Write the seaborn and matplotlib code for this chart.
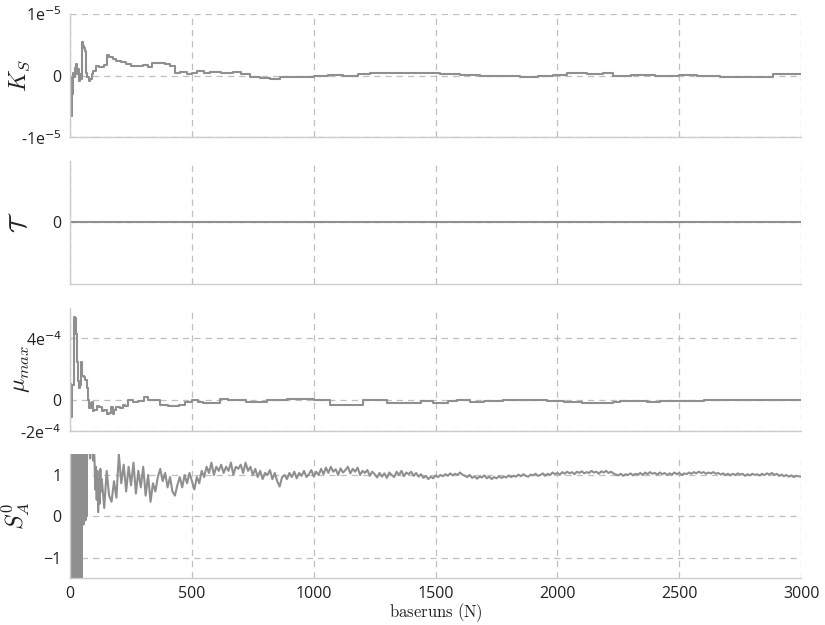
import numpy as np
import pandas as pd
import matplotlib
matplotlib.use("Agg")
import matplotlib.pyplot as plt
import seaborn as sns
from matplotlib.ticker import FixedLocator, FixedFormatter

# ---------------- data ----------------
# K_S running estimate, values in units of 1e-6
ks_x = [0, 5, 8, 12, 16, 20, 25, 28, 32, 36, 40, 45, 48, 52, 56, 60, 64, 70, 76, 82,
        88, 95, 105, 120, 140, 152, 160, 175, 190, 210, 230, 250, 280, 300, 320, 337,
        360, 390, 410, 431, 450, 480, 500, 520, 550, 575, 620, 670, 700, 740, 780, 820,
        860, 900, 950, 1000, 1060, 1120, 1180, 1232, 1300, 1383, 1420, 1465, 1520, 1600,
        1683, 1760, 1847, 1920, 1980, 2040, 2120, 2188, 2230, 2300, 2400, 2500, 2572,
        2620, 2667, 2750, 2845, 2886, 2950, 3000]
ks_v = [-0.3, -6.5, -3.0, 0.5, -0.2, 1.2, 1.9, 0.3, 1.0, -0.8, 0.2, -0.5, 5.5, 4.8, 4.4,
        4.0, 0.5, -0.3, -0.8, -0.6, 0.2, 0.8, 1.6, 1.4, 1.7, 3.3, 3.0, 2.7, 2.4, 2.2, 1.8,
        1.6, 1.5, 1.7, 1.4, 2.1, 2.0, 1.9, 1.6, 0.4, 0.6, 0.3, 0.5, 0.7, 0.5, 0.6, 0.5,
        0.55, 0.2, -0.3, -0.4, -0.6, -0.3, -0.3, -0.2, 0.0, 0.1, 0.0, 0.2, 0.4, 0.35, 0.5,
        0.4, 0.45, 0.2, 0.1, 0.0, -0.1, -0.2, 0.0, 0.1, 0.4, 0.3, 0.35, 0.0, 0.05, 0.0,
        0.05, 0.0, -0.1, -0.3, -0.25, -0.15, 0.2, 0.25, 0.2]

# tau: identically zero
tau_x = [0, 3000]
tau_v = [0.0, 0.0]

# mu_max running estimate, values in units of 1e-4
mu_x = [0, 5, 9, 14, 22, 25, 28, 31, 36, 42, 45, 50, 58, 62, 68, 72, 78, 84, 90, 95,
        100, 110, 120, 130, 140, 152, 160, 168, 175, 182, 190, 205, 215, 225, 238, 260,
        280, 303, 320, 350, 370, 400, 445, 470, 500, 525, 545, 587, 615, 650, 697, 720,
        780, 808, 860, 890, 944, 1000, 1067, 1136, 1203, 1272, 1300, 1380, 1440, 1490,
        1550, 1588, 1640, 1700, 1777, 1888, 1957, 2025, 2100, 2230, 2257, 2367, 2420,
        2600, 2800, 3000]
mu_v = [1.05, -1.05, 1.0, 5.4, 5.3, 4.3, 2.5, 1.25, 0.8, 1.0, 2.45, 1.6, 1.5, 1.3, 0.8,
        0.0, -0.5, -0.2, -0.1, -0.7, -0.6, -0.4, -0.45, -0.7, -0.65, -0.9, -0.85, -0.45,
        -0.9, -0.6, -0.45, -0.5, -0.3, -0.4, 0.0, -0.1, -0.05, 0.2, 0.05, 0.0, -0.3,
        -0.35, -0.3, -0.1, 0.05, -0.1, -0.2, -0.2, 0.1, 0.0, 0.05, -0.1, -0.1, 0.05, 0.05,
        0.1, 0.1, 0.0, -0.3, -0.3, 0.0, 0.0, -0.15, -0.15, -0.05, -0.15, -0.05, 0.0, -0.1,
        -0.05, 0.02, 0.02, -0.05, -0.12, -0.15, -0.12, -0.02, -0.12, -0.02, 0.0, 0.02, 0.0]

# S_A^0 estimate: early chaotic part, then regular samples every 10 runs
sa_x_early = [1, 3, 5, 7, 9, 11, 13, 15, 17, 19, 21, 23, 25, 27, 29, 31, 33, 35, 37, 39,
              41, 43, 45, 47, 49, 51, 53, 55, 57, 59, 61, 63, 65, 67, 70, 73, 76, 79, 82,
              85, 88, 91, 94, 97, 100, 103, 106, 109, 112, 115, 118, 121, 124, 127]
sa_v_early = [3.0, -2.5, 4.0, -3.0, 2.5, -4.0, 3.5, -2.0, 5.0, -3.5, 2.0, -2.8, 3.2, -1.8,
              4.0, -3.0, 2.6, -2.2, 3.0, -2.6, 2.2, 1.9, 2.8, -2.4, 2.0, -0.1, 2.5, -0.2,
              1.9, 0.1, 2.2, -0.1, 1.8, 0.0, 1.7, 2.1, 1.6, 1.9, 1.4, 2.0, 1.6, 1.8, 1.35,
              1.7, 1.4, 0.65, 1.2, 0.4, 1.1, 0.1, 0.9, 0.3, 1.15, 0.6]
sa_x_late = list(range(130, 3001, 10))
sa_v_late = [
    0.9, 0.2, 1.1, 0.5, 0.35, 0.85, 0.45, 1.5, 0.8, 1.25,
    0.6, 1.2, 0.75, 1.3, 0.55, 1.1, 0.7, 1.2, 0.5, 1.0,
    0.35, 0.8, 0.6, 0.95, 1.15, 0.85, 1.05, 0.7, 0.95, 0.6,
    0.5, 0.75, 0.95, 0.7, 1.0, 0.8, 1.05, 0.85, 0.65, 0.95,
    0.8, 1.1, 0.95, 1.2, 1.05, 1.3, 1.0, 1.2, 1.1, 1.25,
    1.05, 1.2, 1.1, 1.3, 1.0, 1.2, 1.15, 1.25, 1.05, 1.3,
    1.1, 1.2, 1.0, 1.15, 0.95, 1.1, 0.9, 1.05, 1.0, 1.12,
    0.9, 1.05, 0.85, 0.72, 0.95, 1.0, 0.9, 1.05, 0.95, 1.08,
    0.92, 1.05, 0.98, 1.1, 0.95, 1.02, 1.12, 0.96, 1.08, 1.0,
    1.15, 1.02, 1.18, 1.05, 1.2, 1.08, 1.14, 1.0, 1.16, 1.06,
    1.12, 1.2, 1.04, 1.15, 1.08, 1.18, 1.0, 1.1, 1.05, 1.12,
    0.98, 1.08, 1.02, 0.94, 1.05, 0.96, 1.04, 0.93, 1.06, 1.0,
    0.95, 1.08, 1.0, 1.1, 0.97, 1.06, 1.02, 1.08, 0.98, 1.05,
    0.96, 1.02, 0.93, 0.98, 0.9, 0.96, 0.92, 0.99, 0.95, 1.0,
    0.97, 1.02, 0.98, 1.04, 0.99, 1.03, 1.0, 1.06, 1.01, 0.98,
    0.95, 1.0, 0.93, 0.97, 0.91, 0.96, 0.94, 0.99, 0.92, 0.96,
    0.9, 0.95, 0.92, 0.97, 0.93, 0.96, 0.94, 0.99, 0.95, 0.98,
    0.96, 1.01, 0.97, 1.02, 0.98, 0.96, 1.01, 0.99, 1.03, 0.98,
    1.0, 1.04, 0.98, 1.03, 1.0, 1.06, 1.02, 1.05, 1.01, 1.07,
    1.03, 1.08, 1.04, 1.07, 1.02, 1.08, 1.05, 1.09, 1.04, 1.07,
    1.05, 1.1, 1.06, 1.08, 1.03, 1.09, 1.06, 1.1, 1.05, 1.08,
    1.04, 1.01, 0.99, 1.03, 0.98, 1.02, 1.0, 1.04, 0.99, 1.03,
    1.01, 1.05, 1.0, 1.06, 1.02, 1.07, 1.03, 1.05, 1.01, 1.06,
    1.02, 1.05, 1.0, 1.04, 1.01, 1.06, 1.02, 1.05, 1.0, 1.04,
    1.02, 1.06, 1.03, 1.07, 1.04, 1.08, 1.05, 1.07, 1.03, 1.06,
    1.04, 1.07, 1.03, 1.05, 1.01, 1.04, 1.0, 1.03, 0.99, 1.03,
    1.0, 1.04, 1.01, 1.03, 0.98, 1.02, 0.99, 1.03, 1.0, 1.02,
    0.99, 1.03, 1.0, 1.04, 1.01, 1.05, 1.0, 1.03, 0.98, 1.01,
    0.97, 1.0, 0.96, 0.99, 0.95, 0.98, 0.97, 0.96]

x_ticks = [0, 500, 1000, 1500, 2000, 2500, 3000]
x_tick_labels = ["0", "500", "1000", "1500", "2000", "2500", "3000"]

ks_ticks = [-1e-5, 0, 1e-5]
ks_tick_labels = ["-1e$^{-5}$", "0", "1e$^{-5}$"]
tau_ticks = [0]
tau_tick_labels = ["0"]
mu_ticks = [-2e-4, 0, 4e-4]
mu_tick_labels = ["-2e$^{-4}$", "0", "4e$^{-4}$"]
sa_ticks = [-1, 0, 1]
sa_tick_labels = ["\u22121", "0", "1"]

ylabels = [r"$K_S$", r"$\mathcal{T}$", r"$\mu_{max}$", r"$S_A^0$"]
xlabel = r"$\mathrm{baseruns\ (N)}$"

# ---------------- build frames ----------------
df_ks = pd.DataFrame({"N": ks_x, "v": np.array(ks_v) * 1e-6})
df_tau = pd.DataFrame({"N": tau_x, "v": tau_v})
df_mu = pd.DataFrame({"N": mu_x, "v": np.array(mu_v) * 1e-4})
df_sa = pd.DataFrame({"N": sa_x_early + sa_x_late, "v": sa_v_early + sa_v_late})

# ---------------- style ----------------
sns.set_style("white")
plt.rcParams["font.family"] = ["Open Sans", "DejaVu Sans"]

LINE = "#8f8f8f"
GRID = "#bfbfbf"
SPINE = "#cccccc"
TEXT = "#222222"

fig, axes = plt.subplots(4, 1, sharex=True, figsize=(8.25, 6.25), dpi=100)
fig.subplots_adjust(left=0.085, right=0.971, top=0.978, bottom=0.075, hspace=0.187)

frames = [df_ks, df_tau, df_mu, df_sa]
styles = ["steps-post", "default", "steps-post", "default"]
ylims = [(-1e-5, 1e-5), (-1, 1), (-2e-4, 6e-4), (-1.5, 1.5)]
yt = [(ks_ticks, ks_tick_labels), (tau_ticks, tau_tick_labels),
      (mu_ticks, mu_tick_labels), (sa_ticks, sa_tick_labels)]

for ax, df, ds, yl, (tk, tl), lab in zip(axes, frames, styles, ylims, yt, ylabels):
    sns.lineplot(data=df, x="N", y="v", ax=ax, color=LINE, linewidth=1.5,
                 estimator=None, sort=False, drawstyle=ds)
    ax.set_xlim(0, 3000)
    ax.set_ylim(*yl)
    ax.yaxis.set_major_locator(FixedLocator(tk))
    ax.yaxis.set_major_formatter(FixedFormatter(tl))
    ax.xaxis.set_major_locator(FixedLocator(x_ticks))
    ax.grid(True, linestyle=(0, (5, 4)), color=GRID, linewidth=0.9)
    for s in ["top", "right"]:
        ax.spines[s].set_visible(False)
    for s in ["left", "bottom"]:
        ax.spines[s].set_color(SPINE)
        ax.spines[s].set_linewidth(1.0)
    ax.tick_params(axis="both", length=0, labelsize=11.5, pad=6, colors=TEXT)
    ax.set_ylabel(lab, fontsize=17, math_fontfamily="cm", color=TEXT)
    ax.yaxis.set_label_coords(-0.052, 0.5)
    ax.set_xlabel("")

axes[-1].xaxis.set_major_formatter(FixedFormatter(x_tick_labels))
axes[-1].set_xlabel(xlabel, fontsize=12, math_fontfamily="cm", color=TEXT)
axes[-1].xaxis.set_label_coords(0.5, -0.185)
axes[-1].xaxis.label.set_va("top")

fig.savefig("out.png", dpi=100)
